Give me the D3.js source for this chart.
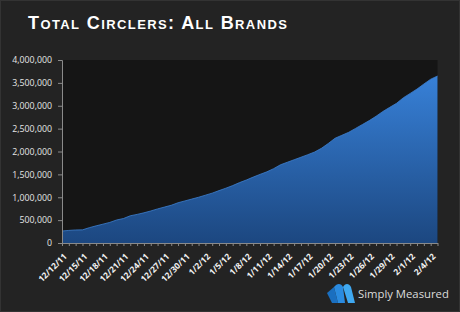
<!DOCTYPE html>
<html>
<head>
<meta charset="utf-8">
<script src="https://cdn.jsdelivr.net/npm/d3@7"></script>
<style>
  html, body { margin: 0; padding: 0; background: #232323; }
  svg { display: block; }
</style>
</head>
<body>
<svg id="chart" width="460" height="312"></svg>
<script>
// ---- data ----
const dayLabels = ["12/12/11","12/13/11","12/14/11","12/15/11","12/16/11","12/17/11","12/18/11","12/19/11","12/20/11","12/21/11",
  "12/22/11","12/23/11","12/24/11","12/25/11","12/26/11","12/27/11","12/28/11","12/29/11","12/30/11","12/31/11",
  "1/1/12","1/2/12","1/3/12","1/4/12","1/5/12","1/6/12","1/7/12","1/8/12","1/9/12","1/10/12",
  "1/11/12","1/12/12","1/13/12","1/14/12","1/15/12","1/16/12","1/17/12","1/18/12","1/19/12","1/20/12",
  "1/21/12","1/22/12","1/23/12","1/24/12","1/25/12","1/26/12","1/27/12","1/28/12","1/29/12","1/30/12",
  "1/31/12","2/1/12","2/2/12","2/3/12","2/4/12","2/5/12"];
const circlers = [262000,275000,285000,287000,335000,375000,412000,450000,503000,535000,
  595000,625000,660000,700000,745000,785000,825000,880000,920000,960000,
  1000000,1045000,1090000,1145000,1198000,1255000,1320000,1377000,1440000,1500000,
  1555000,1625000,1710000,1765000,1820000,1875000,1930000,1989000,2070000,2175000,
  2290000,2355000,2420000,2505000,2590000,2675000,2770000,2875000,2965000,3053000,
  3175000,3270000,3365000,3475000,3580000,3650000];
const yTicks = [0,500000,1000000,1500000,2000000,2500000,3000000,3500000,4000000];
const labelEvery = 3;
const title = "Total Circlers:  All Brands";
const brand = "Simply Measured";

// ---- layout ----
const W = 460, H = 312;
const plot = {left: 62, top: 60, right: 437.5, bottom: 243};
const svg = d3.select("#chart");

// frame
svg.append("rect").attr("x",0.5).attr("y",0.5).attr("width",W-1).attr("height",H-1)
  .attr("fill","#232323").attr("stroke","#333333");

// title
svg.append("text").attr("x",28).attr("y",28.5)
  .attr("font-family","'Liberation Sans', Arial, sans-serif")
  .attr("font-weight","bold").attr("font-size",18)
  .style("font-variant","small-caps")
  .style("letter-spacing","1.4px")
  .attr("fill","#ffffff").text(title);

const x = d3.scalePoint().domain(dayLabels).range([plot.left, plot.right]);
const y = d3.scaleLinear().domain([0,4000000]).range([plot.bottom, plot.top]);

// plot background
svg.append("rect").attr("x",plot.left).attr("y",plot.top)
  .attr("width",plot.right-plot.left).attr("height",plot.bottom-plot.top)
  .attr("fill","#151515");

// gradient
const defs = svg.append("defs");
const grad = defs.append("linearGradient").attr("id","areaGrad")
  .attr("gradientUnits","userSpaceOnUse")
  .attr("x1",0).attr("y1",plot.top).attr("x2",0).attr("y2",plot.bottom);
grad.append("stop").attr("offset","0%").attr("stop-color","#3a86e0");
grad.append("stop").attr("offset","100%").attr("stop-color","#1c4780");

const area = d3.area()
  .x((d,i)=>x(dayLabels[i]))
  .y0(y(0))
  .y1(d=>y(d));
svg.append("path").datum(circlers).attr("d",area).attr("fill","url(#areaGrad)");
svg.append("path").datum(circlers)
  .attr("d", d3.line().x((d,i)=>x(dayLabels[i])).y(d=>y(d)))
  .attr("fill","none").attr("stroke","#3c7fcf").attr("stroke-width",0.8);

// y axis
const yAxis = d3.axisLeft(y).tickValues(yTicks).tickFormat(d3.format(",")).tickSize(4).tickPadding(6);
const gy = svg.append("g").attr("transform",`translate(${plot.left},0)`).call(yAxis);
gy.select(".domain").attr("stroke","#8a8a8a");
gy.selectAll(".tick line").attr("stroke","#8a8a8a");
gy.selectAll(".tick text").attr("fill","#e6e6e6")
  .attr("font-family","'Open Sans', 'DejaVu Sans', sans-serif").attr("font-size",8.8);

// x axis
const xAxis = d3.axisBottom(x).tickSize(3).tickSizeOuter(0)
  .tickFormat((d,i)=> i % labelEvery === 0 ? d : "");
const gx = svg.append("g").attr("transform",`translate(0,${plot.bottom})`).call(xAxis);
gx.select(".domain").attr("stroke","#8a8a8a");
gx.selectAll(".tick line").attr("stroke","#8a8a8a");
gx.selectAll(".tick text")
  .attr("fill","#f0f0f0")
  .attr("font-family","'Open Sans', 'DejaVu Sans', sans-serif")
  .attr("font-weight","bold")
  .attr("font-size",8.5)
  .attr("text-anchor","end")
  .attr("dy",null).attr("y",null)
  .attr("transform","translate(5,14) rotate(-45)");

// brand logo
const logo = svg.append("g").attr("transform","translate(327,283)");
logo.append("path").attr("d","M0,10 L7,4 L11,20 L5,20 Z").attr("fill","#1a6fc0");
logo.append("path").attr("d","M7,4 C10,0 14,0 16,4 L18,20 L11,20 Z").attr("fill","#2a8be0");
logo.append("path").attr("d","M16,4 C18,0 22,0 24,4 L28,20 L21,20 Z").attr("fill","#3fa8f0");
svg.append("text").attr("x",358).attr("y",298)
  .attr("font-family","'Open Sans', 'DejaVu Sans', sans-serif")
  .attr("font-size",11.3).attr("fill","#dcdcdc").text(brand);
</script>
</body>
</html>
